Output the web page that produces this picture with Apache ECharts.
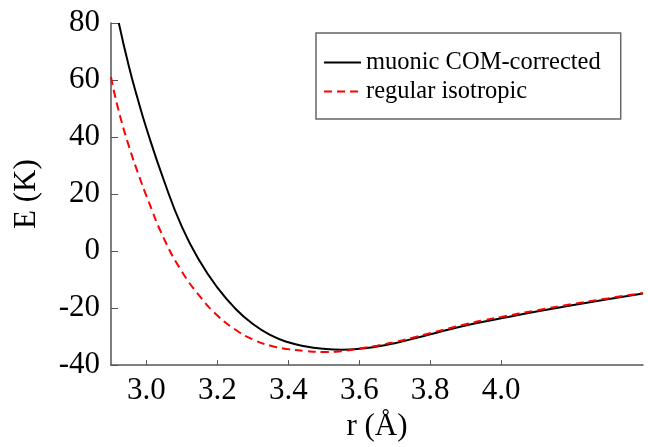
<!DOCTYPE html>
<html>
<head>
<meta charset="utf-8">
<script src="https://cdn.jsdelivr.net/npm/echarts@6/dist/echarts.min.js"></script>
<style>
  html, body { margin: 0; padding: 0; background: #fff; }
  #chart { width: 648px; height: 447px; }
</style>
</head>
<body>
<div id="chart"></div>
<script>
// muonic COM-corrected curve (r in Å, E in K)
var muonicR = [2.922, 2.95, 2.975, 3.0, 3.05, 3.1, 3.15, 3.2, 3.25, 3.3, 3.35, 3.4, 3.45, 3.5, 3.55, 3.6, 3.65, 3.7, 3.75, 3.8, 3.85, 3.9, 3.95, 4.0, 4.1, 4.2, 4.3, 4.4];
var muonicE = [80, 65, 53.5, 43, 24.5, 8.5, -3.5, -12.8, -20.1, -25.6, -29.5, -32, -33.5, -34.3, -34.6, -34.3, -33.5, -32.3, -30.8, -29.2, -27.6, -26.1, -24.8, -23.6, -21.2, -19.0, -16.9, -14.9];

// regular isotropic curve
var regularR = [2.9, 2.92, 2.95, 2.98, 3.0, 3.05, 3.1, 3.15, 3.2, 3.25, 3.3, 3.35, 3.4, 3.45, 3.5, 3.55, 3.6, 3.65, 3.7, 3.75, 3.8, 3.85, 3.9, 3.95, 4.0, 4.1, 4.2, 4.3, 4.4];
var regularE = [61, 50, 37, 26, 19.3, 4.2, -7.2, -15.8, -22.6, -27.5, -31, -33.2, -34.4, -35.1, -35.4, -35.1, -34.2, -33.2, -31.9, -30.4, -28.8, -27.2, -25.7, -24.3, -23.1, -20.8, -18.6, -16.6, -14.7];

var xTicks = [3.0, 3.2, 3.4, 3.6, 3.8, 4.0];
var seriesNames = ["muonic COM-corrected", "regular isotropic"];

function pairs(xs, ys) {
  return xs.map(function(x, i) { return [x, ys[i]]; });
}

var chart = echarts.init(document.getElementById("chart"));
var font = "'Liberation Serif', 'DejaVu Serif', serif";

var option = {
  animation: false,
  grid: {
    left: 111,
    right: 5,
    top: 23,
    bottom: 74
  },
  legend: {
    orient: "vertical",
    left: 316,
    top: 33,
    padding: [17, 20, 15, 7],
    itemGap: 4,
    itemWidth: 37,
    itemHeight: 14,
    borderColor: "#666",
    borderWidth: 1.5,
    itemStyle: { opacity: 0 },
    textStyle: {
      fontFamily: font,
      fontSize: 24.5,
      color: "#000",
      lineHeight: 24
    },
    data: seriesNames
  },
  xAxis: {
    type: "value",
    min: 2.9,
    max: 4.4,
    name: "r (Å)",
    nameLocation: "middle",
    nameGap: 42,
    nameTextStyle: {
      fontFamily: font,
      fontSize: 31,
      color: "#000"
    },
    axisLine: {
      onZero: false,
      lineStyle: { color: "#555", width: 1.5 }
    },
    axisTick: {
      inside: true,
      length: 5,
      customValues: xTicks,
      lineStyle: { color: "#555", width: 1 }
    },
    axisLabel: {
      customValues: xTicks,
      margin: 10,
      fontFamily: font,
      fontSize: 31,
      color: "#000",
      formatter: function(v) { return v.toFixed(1); }
    },
    splitLine: { show: false }
  },
  yAxis: {
    type: "value",
    min: -40,
    max: 80,
    interval: 20,
    name: "E (K)",
    nameLocation: "middle",
    nameGap: 69,
    nameTextStyle: {
      fontFamily: font,
      fontSize: 31,
      color: "#000"
    },
    axisLine: {
      show: true,
      onZero: false,
      lineStyle: { color: "#555", width: 1.5 }
    },
    axisTick: {
      show: true,
      inside: true,
      length: 7,
      lineStyle: { color: "#555", width: 1 }
    },
    axisLabel: {
      margin: 11,
      fontFamily: font,
      fontSize: 31,
      color: "#000"
    },
    splitLine: { show: false }
  },
  series: [
    {
      name: seriesNames[0],
      type: "line",
      data: pairs(muonicR, muonicE),
      smooth: true,
      symbol: "none",
      z: 2,
      lineStyle: { color: "#000", width: 2 },
      itemStyle: { color: "#000" }
    },
    {
      name: seriesNames[1],
      type: "line",
      data: pairs(regularR, regularE),
      smooth: true,
      symbol: "none",
      z: 3,
      lineStyle: { color: "#ff0000", width: 2, type: [8, 5] },
      itemStyle: { color: "#ff0000" }
    }
  ]
};

chart.setOption(option);
</script>
</body>
</html>
